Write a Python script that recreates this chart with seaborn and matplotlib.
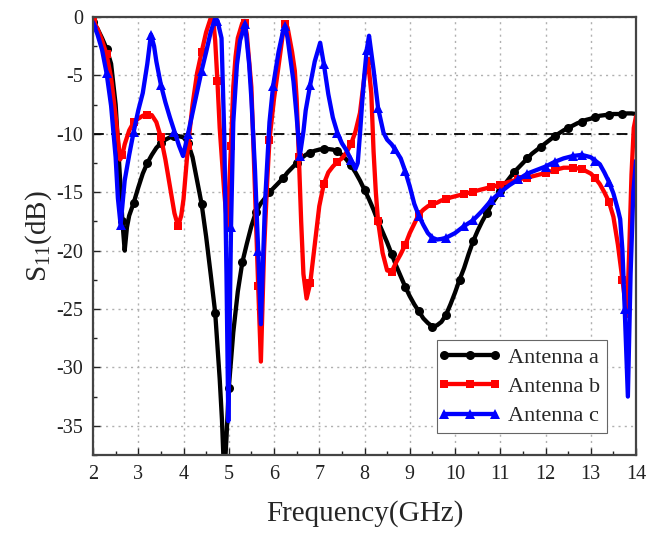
import numpy as np
import pandas as pd
import matplotlib
matplotlib.use("Agg")
import matplotlib.pyplot as plt
import seaborn as sns

# ---------------- data ----------------
freq_a = [2.0, 2.1, 2.2, 2.3, 2.4, 2.5, 2.6, 2.65, 2.7, 2.75, 2.8, 2.9, 3.0, 3.1, 3.2, 3.3, 3.4, 3.5,
          3.6, 3.7, 3.8, 3.9, 4.0, 4.1, 4.2, 4.3, 4.4, 4.5, 4.6, 4.7, 4.8, 4.85, 4.9, 4.95, 5.0, 5.1,
          5.2, 5.3, 5.4, 5.5, 5.6, 5.7, 5.8, 5.9, 6.0, 6.1, 6.2, 6.3, 6.4, 6.5, 6.6, 6.7, 6.8, 6.9,
          7.0, 7.1, 7.2, 7.3, 7.4, 7.5, 7.6, 7.7, 7.8, 7.9, 8.0, 8.1, 8.2, 8.3, 8.4, 8.5, 8.6, 8.7,
          8.8, 8.9, 9.0, 9.1, 9.2, 9.3, 9.4, 9.5, 9.6, 9.7, 9.8, 9.9, 10.0, 10.1, 10.2, 10.3, 10.4,
          10.5, 10.6, 10.7, 10.8, 10.9, 11.0, 11.1, 11.2, 11.3, 11.4, 11.5, 11.6, 11.7, 11.8, 11.9,
          12.0, 12.1, 12.2, 12.3, 12.4, 12.5, 12.6, 12.7, 12.8, 12.9, 13.0, 13.1, 13.2, 13.3, 13.4,
          13.5, 13.6, 13.7, 13.8, 13.9, 14.0]
s11_a = [-0.4, -1.0, -1.8, -2.7, -4.0, -7.5, -14.0, -17.5, -20.0, -18.0, -17.0, -15.9, -14.6, -13.4,
         -12.5, -11.8, -11.2, -10.8, -10.5, -10.3, -10.2, -10.2, -10.3, -10.8, -12.0, -14.0, -16.0,
         -18.8, -22.0, -25.3, -31.0, -34.5, -39.5, -36.0, -31.8, -27.0, -23.5, -21.0, -19.4, -17.9,
         -16.7, -16.0, -15.5, -15.0, -14.6, -14.2, -13.8, -13.3, -12.9, -12.5, -12.1, -11.8, -11.6,
         -11.45, -11.35, -11.3, -11.3, -11.35, -11.5, -11.8, -12.2, -12.7, -13.3, -14.0, -14.8,
         -15.6, -16.5, -17.5, -18.4, -19.3, -20.3, -21.3, -22.2, -23.1, -23.9, -24.6, -25.2, -25.8,
         -26.2, -26.5, -26.4, -26.1, -25.5, -24.6, -23.6, -22.5, -21.5, -20.3, -19.2, -18.3, -17.5,
         -16.8, -16.1, -15.5, -14.9, -14.3, -13.8, -13.3, -12.9, -12.5, -12.1, -11.7, -11.4, -11.1,
         -10.8, -10.5, -10.2, -9.95, -9.7, -9.5, -9.3, -9.1, -8.95, -8.8, -8.7, -8.55, -8.45, -8.4,
         -8.35, -8.3, -8.3, -8.3, -8.25, -8.25, -8.3]

freq_b = [2.0, 2.1, 2.2, 2.3, 2.4, 2.5, 2.6, 2.65, 2.7, 2.8, 2.9, 3.0, 3.1, 3.2, 3.3, 3.4, 3.5, 3.6,
          3.7, 3.8, 3.88, 3.95, 4.0, 4.1, 4.2, 4.3, 4.4, 4.5, 4.6, 4.65, 4.7, 4.75, 4.8, 4.9, 4.97,
          5.05, 5.1, 5.15, 5.2, 5.3, 5.35, 5.4, 5.5, 5.58, 5.65, 5.71, 5.78, 5.85, 5.9, 6.0, 6.1,
          6.2, 6.25, 6.3, 6.4, 6.46, 6.5, 6.55, 6.6, 6.65, 6.72, 6.8, 6.9, 7.0, 7.1, 7.2, 7.3, 7.4,
          7.5, 7.6, 7.7, 7.8, 7.9, 8.0, 8.08, 8.15, 8.2, 8.25, 8.3, 8.4, 8.5, 8.6, 8.7, 8.8, 8.9,
          9.0, 9.1, 9.2, 9.3, 9.4, 9.5, 9.6, 9.7, 9.8, 9.9, 10.0, 10.2, 10.4, 10.6, 10.8, 11.0,
          11.2, 11.4, 11.6, 11.8, 12.0, 12.2, 12.4, 12.6, 12.8, 13.0, 13.1, 13.2, 13.3, 13.4, 13.5,
          13.6, 13.7, 13.8, 13.85, 13.9, 13.95, 14.0]
s11_b = [-0.3, -1.0, -2.0, -3.2, -5.2, -8.5, -12.2, -11.8, -10.9, -9.7, -9.0, -8.7, -8.45, -8.35,
         -8.4, -9.0, -10.3, -12.2, -14.5, -16.8, -17.9, -17.0, -15.6, -11.0, -7.5, -4.8, -3.0, -1.3,
         -0.1, 0.0, -2.0, -5.5, -9.5, -15.0, -18.0, -11.0, -6.0, -3.4, -1.8, -0.5, -0.5, -1.5, -6.0,
         -14.9, -23.0, -29.5, -20.0, -14.0, -10.5, -7.0, -4.2, -1.3, -0.6, -0.9, -3.0, -4.6, -7.0,
         -12.0, -17.5, -22.0, -24.1, -22.8, -19.5, -16.2, -14.3, -13.3, -12.8, -12.4, -12.1, -11.6,
         -10.9, -9.8, -8.2, -5.0, -3.8, -6.5, -11.5, -15.0, -17.5, -20.2, -21.7, -21.8, -21.0,
         -20.3, -19.5, -18.5, -17.7, -16.9, -16.5, -16.2, -16.0, -15.9, -15.7, -15.6, -15.45,
         -15.35, -15.15, -14.95, -14.75, -14.55, -14.35, -14.1, -13.9, -13.75, -13.55, -13.35,
         -13.1, -12.9, -12.9, -13.0, -13.4, -13.8, -14.3, -15.0, -15.8, -17.1, -19.5, -22.5,
         -25.6, -20.0, -13.5, -9.5, -8.5]

freq_c = [2.0, 2.1, 2.2, 2.3, 2.4, 2.5, 2.55, 2.61, 2.7, 2.8, 2.9, 3.0, 3.1, 3.2, 3.28, 3.35, 3.4,
          3.5, 3.6, 3.7, 3.8, 3.9, 3.99, 4.1, 4.2, 4.3, 4.4, 4.5, 4.6, 4.7, 4.75, 4.84, 4.9, 4.95,
          4.99, 5.05, 5.1, 5.18, 5.25, 5.36, 5.45, 5.5, 5.58, 5.65, 5.71, 5.8, 5.9, 5.98, 6.1, 6.2,
          6.25, 6.3, 6.43, 6.5, 6.57, 6.65, 6.7, 6.8, 6.9, 7.02, 7.1, 7.2, 7.3, 7.4, 7.5, 7.6, 7.7,
          7.8, 7.85, 7.9, 7.95, 8.0, 8.05, 8.1, 8.2, 8.3, 8.42, 8.5, 8.6, 8.67, 8.8, 8.9, 9.0, 9.1,
          9.2, 9.3, 9.4, 9.5, 9.6, 9.7, 9.8, 9.9, 10.0, 10.2, 10.4, 10.5, 10.6, 10.8, 11.0, 11.2,
          11.4, 11.6, 11.8, 12.0, 12.2, 12.4, 12.6, 12.8, 13.0, 13.1, 13.2, 13.3, 13.4, 13.5, 13.6,
          13.65, 13.7, 13.75, 13.82, 13.88, 13.94, 14.0]
s11_c = [-0.5, -1.5, -2.8, -4.8, -7.6, -12.0, -15.5, -17.8, -14.0, -11.8, -9.8, -8.0, -6.5, -4.0,
         -1.5, -2.5, -3.8, -5.8, -7.3, -8.6, -9.8, -11.0, -11.9, -10.0, -8.2, -6.4, -4.6, -3.0,
         -1.3, -0.1, -0.3, -1.8, -10.0, -22.0, -34.6, -18.0, -9.0, -4.1, -2.0, -0.6, -4.0, -7.0,
         -13.1, -20.0, -26.3, -16.0, -9.0, -5.9, -3.0, -1.2, -0.8, -1.8, -5.5, -8.5, -11.9, -9.8,
         -8.0, -5.8, -3.8, -2.2, -4.0, -6.6, -8.6, -9.9, -10.8, -11.4, -12.2, -13.0, -12.5, -10.0,
         -7.2, -4.8, -2.8, -1.6, -4.5, -7.8, -9.9, -10.5, -10.9, -11.3, -12.1, -13.2, -14.5,
         -16.0, -17.0, -17.8, -18.5, -18.9, -19.05, -19.0, -18.9, -18.7, -18.5, -17.9, -17.4,
         -17.0, -16.6, -15.7, -15.0, -14.4, -13.9, -13.4, -13.1, -12.8, -12.4, -12.1, -11.9,
         -11.8, -12.0, -12.3, -12.6, -13.3, -14.1, -15.1, -16.5, -17.3, -20.0, -25.0, -32.5,
         -22.0, -15.0, -12.3]

labels = ["Antenna a", "Antenna b", "Antenna c"]
x_ticks = [2, 3, 4, 5, 6, 7, 8, 9, 10, 11, 12, 13, 14]
y_ticks = [0, -5, -10, -15, -20, -25, -30, -35]
ref_level = -10

# ---------------- style ----------------
sns.set_theme(style="white")
plt.rcParams["font.family"] = ["Liberation Serif", "DejaVu Serif"]
plt.rcParams["mathtext.fontset"] = "custom"
plt.rcParams["mathtext.rm"] = "Liberation Serif"
plt.rcParams["mathtext.it"] = "Liberation Serif:italic"
plt.rcParams["axes.unicode_minus"] = False

fig = plt.figure(figsize=(6.49, 5.34), dpi=100)
ax = fig.add_axes([0.1433, 0.148, 0.8367, 0.82])

series = [
    (freq_a, s11_a, "#000000", "o", 6.5),
    (freq_b, s11_b, "#ff0000", "s", 6.0),
    (freq_c, s11_c, "#0000ff", "^", 7.0),
]
marker_grid = np.arange(2.05, 14.0, 0.3)
for (f, s, col, mk, ms), lab in zip(series, labels):
    df = pd.DataFrame({"Frequency": f, "S11": s})
    farr = np.asarray(f)
    idx = sorted(set(int(np.argmin(np.abs(farr - m))) for m in marker_grid))
    sns.lineplot(data=df, x="Frequency", y="S11", ax=ax, color=col, lw=3.1,
                 marker=mk, markersize=ms, markeredgewidth=0, markevery=idx,
                 label=lab, sort=False, estimator=None)

ax.axhline(ref_level, color="black", lw=1.3, ls=(0, (6, 4)), zorder=1.5)

ax.set_xlim(2, 14)
ax.set_ylim(-37.5, 0)
ax.set_xticks(x_ticks)
ax.set_yticks(y_ticks)
ax.set_xticks(np.arange(2.5, 14, 1.0), minor=True)
ax.set_yticks(np.arange(-37.5, 0, 5.0), minor=True)
ax.tick_params(which="both", direction="in", bottom=True, left=True, top=False, right=False,
               labelsize=14.5, colors="#222222")
ax.tick_params(which="major", length=5, width=1.0, pad=7)
ax.tick_params(which="minor", length=3, width=1.0)
ax.grid(True, which="major", color="#b0b0b0", lw=1.0, ls=(0, (1.5, 3)))
ax.set_axisbelow(True)
for sp in ax.spines.values():
    sp.set_color("#444444")
    sp.set_linewidth(1.6)

ax.set_xlabel("Frequency(GHz)", fontsize=21, labelpad=12)
ax.set_ylabel(r"S$_{\mathrm{11}}$(dB)", fontsize=21, labelpad=2)

leg = ax.legend(loc="lower right", bbox_to_anchor=(0.947, 0.05), fontsize=16,
                frameon=True, fancybox=False, framealpha=1, edgecolor="#666666",
                handlelength=2.3, handletextpad=0.6, borderpad=0.3, labelspacing=0.4,
                borderaxespad=0)
leg.get_frame().set_linewidth(0.8)
for h in leg.get_lines():
    h.set_markevery(None)

fig.savefig("out.png", dpi=100)
